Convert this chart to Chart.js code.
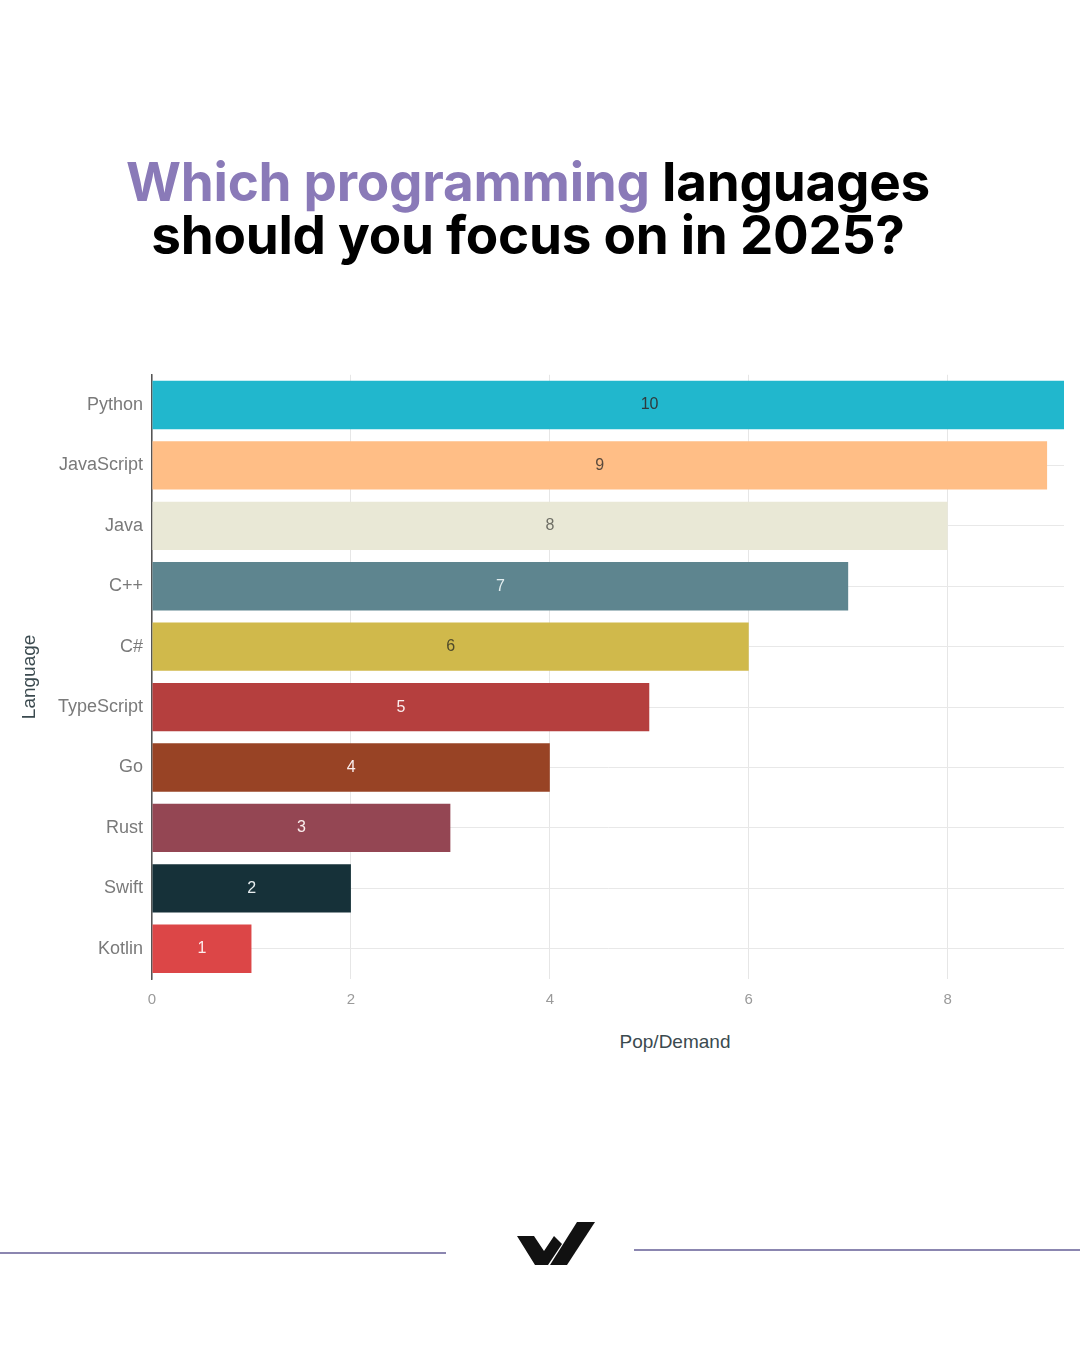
<!DOCTYPE html>
<html>
<head>
<meta charset="utf-8">
<script src="https://cdn.jsdelivr.net/npm/chart.js@4/dist/chart.umd.min.js"></script>
<style>
	body{ margin:0; background:#fff; width:1080px; height:1350px; position:relative; overflow:hidden; font-family:Inter, "Noto Sans", sans-serif; }
	.title{ position:absolute; left:-12px; width:1080px; top:156px; text-align:center; font-weight:700; font-size:53px; line-height:53px; color:#000; letter-spacing:-0.25px; }
	.title .hl{ color:#8a7ab8; }
	.chart-box{ position:absolute; left:10px; top:355px; width:1060px; height:664px; }
	.xtitle{ position:absolute; left:575px; width:200px; top:1031px; text-align:center; font-family:"Liberation Sans", Arial, sans-serif; font-size:19px; color:#3b4a4f; }
	.rule{ position:absolute; height:1.5px; background:#8b86b0; }
</style>
</head>
<body>
	<div class="title"><span class="hl">Which programming</span> languages<br>should you focus on in 2025?</div>

	<div class="chart-box"><canvas id="langChart"></canvas></div>
	<div class="xtitle">Pop/Demand</div>

	<!-- pie de página -->
	<div class="rule" style="left:0; top:1252px; width:446px;"></div>
	<div class="rule" style="left:634px; top:1249px; width:446px;"></div>
	<svg style="position:absolute; left:510px; top:1215px;" width="92" height="58" viewBox="510 1215 92 58">
		<polygon points="517,1236 534,1236 544,1251 554,1236 562,1244 548,1265 535,1265" fill="#111"/>
		<polygon points="577,1222 595,1222 567,1265 550,1265" fill="#111"/>
	</svg>

<script>
	// datos del gráfico
	const languages = ['Python', 'JavaScript', 'Java', 'C++', 'C#', 'TypeScript', 'Go', 'Rust', 'Swift', 'Kotlin'];
	const popDemand = [10, 9, 8, 7, 6, 5, 4, 3, 2, 1];
	const xTicks = [0, 2, 4, 6, 8];

	// estilos
	const barColors = ['#21b7cd', '#ffbe86', '#e9e8d6', '#5e858f', '#d0b94b', '#b53f3e', '#984325', '#944653', '#163139', '#dc4647'];
	const labelColors = ['#2f3a3c', '#5a4a3c', '#6f6f66', '#e3eef0', '#4f4a2a', '#fbeeee', '#fbeeee', '#fbeeee', '#e8eef0', '#fdeeee'];

	// etiquetas dentro de cada barra (en el centro de la barra)
	const barLabels = {
		id: 'barLabels',
		afterDatasetsDraw(chart){
			const ctx = chart.ctx;
			const meta = chart.getDatasetMeta(0);
			ctx.save();
			ctx.font = '16px "Liberation Sans", Arial, sans-serif';
			ctx.textAlign = 'center';
			ctx.textBaseline = 'middle';
			meta.data.forEach((bar, i) => {
				ctx.fillStyle = labelColors[i];
				ctx.fillText(popDemand[i], (bar.x + bar.base) / 2, bar.y);
			});
			ctx.restore();
		}
	};

	new Chart(document.getElementById('langChart'), {
		type: 'bar',
		data: {
			labels: languages,
			datasets: [{
				label: 'Pop/Demand',
				data: popDemand,
				backgroundColor: barColors,
				categoryPercentage: 0.8,
				barPercentage: 1
			}]
		},
		options: {
			indexAxis: 'y',
			responsive: true,
			maintainAspectRatio: false,
			animation: false,
			layout: { padding: { top: 2, right: 6, left: 0, bottom: 0 } },
			plugins: {
				legend: { display: false },
				tooltip: { enabled: false }
			},
			scales: {
				x: {
					min: 0,
					max: 9.17,
					afterFit: s => { s.height = 40 },
					afterBuildTicks: s => { s.ticks = xTicks.map(v => ({ value: v })) },
					ticks: {
						color: '#9a9a9a',
						font: { size: 15, family: '"Liberation Sans", Arial, sans-serif' },
						padding: 12
					},
					grid: { color: '#e6e6e6', lineWidth: 1, drawTicks: false },
					border: { display: false }
				},
				y: {
					afterFit: s => { s.width = 142 },
					ticks: {
						color: '#7a7a7a',
						font: { size: 18, family: '"Liberation Sans", Arial, sans-serif' },
						padding: 9
					},
					grid: { offset: false, color: '#e8e8e8', lineWidth: 1, drawTicks: false },
					border: { display: true, color: '#555', width: 1.5 },
					title: {
						display: true,
						text: 'Language',
						color: '#3b4a4f',
						font: { size: 19, family: '"Liberation Sans", Arial, sans-serif' },
						padding: { top: 8, bottom: 0 }
					}
				}
			}
		},
		plugins: [barLabels]
	});
</script>
</body>
</html>
